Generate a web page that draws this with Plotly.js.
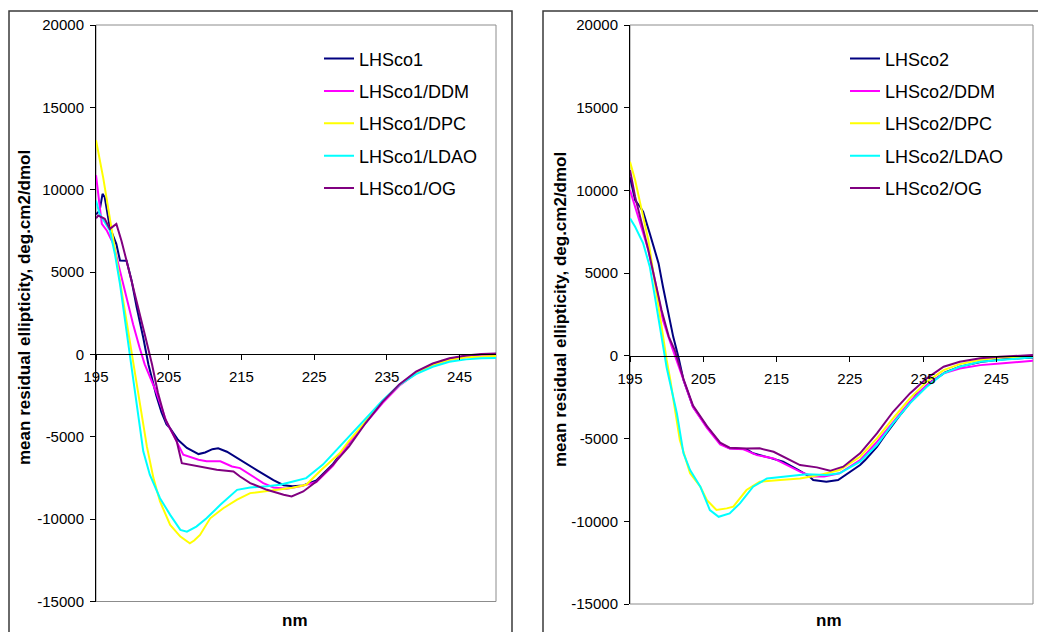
<!DOCTYPE html>
<html>
<head>
<meta charset="utf-8">
<script src="https://cdn.plot.ly/plotly-3.0.1.min.js"></script>
<style>html,body{margin:0;padding:0;background:#fff;}#chart{width:1038px;height:632px;}</style>
</head>
<body>
<div id="chart"></div>
<script>
// ---------- Left panel data (LHSco1) ----------
const nm_LHSco1      = [195,195.5,195.9,196.2,196.9,197.8,198.3,199.2,199.9,200.6,201.5,202.2,203.3,204.0,204.7,205.2,206.3,207.5,209.1,210.0,211.0,211.8,213.0,214.8,217.1,219.4,220.8,222.0,223.5,225.3,227.6,229.8,232.1,234.4,236.7,239.0,241.3,243.6,245.9,248,250];
const val_LHSco1     = [8500,8730,9750,9540,7710,6700,5700,5690,4470,2840,1010,-600,-2500,-3500,-4250,-4490,-5200,-5680,-6050,-5950,-5750,-5700,-5910,-6410,-7020,-7630,-7940,-8000,-7950,-7650,-6650,-5350,-4100,-2870,-1850,-1100,-600,-280,-100,-20,0];

const nm_LHSco1_DDM  = [195,195.4,195.8,196.5,197.4,198.3,199.2,200.1,201.0,201.7,203.3,204.7,205.6,207.0,209.1,210.2,212.1,213.7,214.8,216.6,218.0,219.4,221.2,223.1,225.3,227.6,229.8,232.1,234.4,236.7,239.0,241.3,243.6,245.9,248,250];
const val_LHSco1_DDM = [10880,9540,7920,7510,6700,5070,3450,1830,410,-600,-2300,-4100,-4870,-6090,-6390,-6490,-6490,-6800,-6900,-7410,-7810,-8080,-8160,-8010,-7750,-6750,-5350,-4150,-2950,-1900,-1150,-650,-330,-160,-80,-50];

const nm_LHSco1_DPC  = [195,196,197,198,199,200,201,202,202.9,203.8,205.2,206.6,207.9,208.5,209.3,210.7,212.5,214.4,216.2,218.0,220.3,222.0,223.9,226.0,228.5,229.8,232.1,234.4,236.7,239.0,241.3,243.6,245.9,248,250];
const val_LHSco1_DPC = [13000,10700,8000,5300,2500,-300,-3000,-5600,-7510,-8930,-10350,-11060,-11470,-11300,-10960,-9950,-9340,-8820,-8420,-8320,-8220,-8100,-7910,-7000,-6000,-5250,-4050,-2850,-1850,-1150,-650,-330,-170,-120,-100];

const nm_LHSco1_LDAO  = [195,195.5,196.9,197.6,198.3,199.2,199.6,200.0,200.7,201.5,202.4,203.8,205.2,206.6,207.5,208.8,210.2,212.1,214.4,216.2,218.5,220.3,222.1,223.9,226.2,228.5,229.8,232.1,234.4,236.7,239.0,241.3,243.6,245.9,248,250];
const val_LHSco1_LDAO = [9340,8530,7520,6100,4270,1420,0,-1200,-3200,-5880,-7300,-8730,-9740,-10650,-10760,-10450,-9950,-9130,-8220,-8080,-8010,-7910,-7710,-7510,-6690,-5600,-5000,-3950,-2800,-1850,-1200,-750,-450,-300,-230,-220];

const nm_LHSco1_OG   = [195,195.3,196.2,196.9,197.8,198.5,199.2,199.9,200.8,201.7,202.7,203.5,204.5,205.6,206.1,206.8,209.1,211.6,213.9,214.8,216.2,218.5,220.8,221.9,223.5,225.3,227.6,229.8,232.1,234.4,236.7,239.0,241.3,243.6,245.9,248,250];
const val_LHSco1_OG  = [8260,8430,8230,7620,7920,6900,5690,4470,2840,1220,-600,-2300,-3900,-4870,-5270,-6600,-6800,-7000,-7100,-7410,-7810,-8220,-8520,-8620,-8320,-7710,-6690,-5580,-4150,-2880,-1820,-1050,-550,-230,-60,30,60];

// ---------- Right panel data (LHSco2) ----------
const nm_LHSco2      = [195,195.7,196.4,196.8,197.7,198.9,199.5,200.2,200.9,201.6,202.3,203.6,205.5,207.3,208.6,210.9,211.8,214.0,215.9,218.0,219.5,220.0,221.8,223.4,224.1,225.3,226.4,227.1,228.7,230.0,232.0,234.0,236.0,238.0,240.0,243.0,246.0,250];
const val_LHSco2     = [10800,9400,9000,8700,7400,5590,4180,2570,1150,-50,-1460,-3080,-4290,-5290,-5590,-5650,-5890,-6150,-6400,-6900,-7300,-7510,-7610,-7510,-7300,-6900,-6600,-6300,-5500,-4680,-3500,-2400,-1600,-1000,-650,-350,-200,-100];

const nm_LHSco2_DDM  = [195,195.7,196.6,197.5,198.4,199.5,200.7,201.6,202.3,203.6,205.5,207.3,208.6,210.5,212.3,214.6,216.4,218.2,220.0,221.5,223.6,226.4,228.7,230.9,233.2,235.5,237.8,240.0,242.8,245.5,250];
const val_LHSco2_DDM = [10020,9010,7800,6400,4580,2160,550,-660,-1460,-3100,-4350,-5350,-5600,-5650,-6000,-6200,-6600,-7000,-7300,-7300,-7100,-6300,-5200,-3980,-2770,-1760,-1060,-760,-560,-460,-300];

const nm_LHSco2_DPC  = [195,195.7,196.6,197.5,198.2,198.9,199.5,200.0,200.5,201.8,203.2,204.6,205.5,206.8,208.2,209.1,210.9,212.7,215.5,218.2,220.9,223.6,226.4,228.7,230.9,233.2,235.5,237.8,240.0,242.8,245.5,250];
const val_LHSco2_DPC = [11730,10630,8810,7000,4990,2970,960,-250,-1460,-5090,-7100,-7910,-8720,-9320,-9220,-9120,-8110,-7610,-7510,-7410,-7200,-6900,-6100,-4990,-3780,-2570,-1560,-860,-500,-250,-100,-40];

const nm_LHSco2_LDAO  = [195,195.7,196.8,197.7,198.4,199.1,199.5,200.0,200.5,201.4,202.3,203.2,204.6,205.9,207.1,208.6,210.0,211.8,213.7,216.4,219.1,221.8,223.6,226.4,228.7,230.9,233.2,235.5,237.8,240.0,242.8,245.5,250];
const val_LHSco2_LDAO = [8310,7800,6800,5390,3570,1760,550,-700,-1700,-3480,-5890,-6900,-7910,-9320,-9730,-9520,-8920,-7910,-7410,-7270,-7150,-7200,-7100,-6400,-5390,-4080,-2870,-1870,-1060,-660,-360,-250,-90];

const nm_LHSco2_OG   = [195,195.7,196.6,197.5,198.4,199.3,200.3,201.1,201.8,202.3,203.6,205.5,207.3,208.6,210.9,212.7,214.6,216.4,218.2,220.5,222.3,224.1,226.4,228.7,230.9,233.2,235.5,237.8,240.0,242.8,245.5,250];
const val_LHSco2_OG  = [11230,9620,8010,6400,4580,2770,1150,350,-660,-1400,-3000,-4250,-5250,-5550,-5600,-5590,-5800,-6200,-6600,-6740,-6950,-6700,-5890,-4680,-3380,-2270,-1360,-660,-360,-150,-50,50];

// ---------- Labels / ticks ----------
const seriesNamesLeft  = ['LHSco1','LHSco1/DDM','LHSco1/DPC','LHSco1/LDAO','LHSco1/OG'];
const seriesNamesRight = ['LHSco2','LHSco2/DDM','LHSco2/DPC','LHSco2/LDAO','LHSco2/OG'];
const seriesColors = ['#000080','#FF00FF','#FFFF00','#00FFFF','#800080'];
const xTickVals = [195,205,215,225,235,245];
const xTickText = ['195','205','215','225','235','245'];
const yTickVals = [-15000,-10000,-5000,0,5000,10000,15000,20000];
const yTickText = ['-15000','-10000','-5000','0','5000','10000','15000','20000'];
const yTitle = 'mean residual ellipticity, deg.cm2/dmol';
const xTitle = 'nm';

const leftX  = [nm_LHSco1, nm_LHSco1_DDM, nm_LHSco1_DPC, nm_LHSco1_LDAO, nm_LHSco1_OG];
const leftY  = [val_LHSco1, val_LHSco1_DDM, val_LHSco1_DPC, val_LHSco1_LDAO, val_LHSco1_OG];
const rightX = [nm_LHSco2, nm_LHSco2_DDM, nm_LHSco2_DPC, nm_LHSco2_LDAO, nm_LHSco2_OG];
const rightY = [val_LHSco2, val_LHSco2_DDM, val_LHSco2_DPC, val_LHSco2_LDAO, val_LHSco2_OG];

const FONT = 'Arial, "Liberation Sans", sans-serif';
const traces = [];
seriesNamesLeft.forEach((n,i)=>{
  traces.push({x:leftX[i], y:leftY[i], name:n, type:'scatter', mode:'lines',
    line:{color:seriesColors[i], width:2}, xaxis:'x', yaxis:'y',
    legend:'legend', legendgroup:'L'+i});
});
seriesNamesRight.forEach((n,i)=>{
  traces.push({x:rightX[i], y:rightY[i], name:n, type:'scatter', mode:'lines',
    line:{color:seriesColors[i], width:2}, xaxis:'x2', yaxis:'y2',
    legend:'legend2', legendgroup:'R'+i});
});

// geometry (pixels -> paper)
const W=1038, H=632, ML=96, MR=5, MT=25, MB=28;
const PW=W-ML-MR, PH=H-MT-MB;
const px = v => (v-ML)/PW;
const py = v => (H-MB-v)/PH;

const yRange=[-15000,20000];
function zeroPos(dom){ return dom[0] + (0-yRange[0])/(yRange[1]-yRange[0])*(dom[1]-dom[0]); }
const yDomL=[py(601.5),1], yDomR=[0,1];

function xAx(dom, ydom){
  return {domain:dom, range:[195,250], anchor:'free', position:zeroPos(ydom),
    tickmode:'array', tickvals:xTickVals, ticktext:xTickText, ticks:'outside', ticklen:5, tickcolor:'#000',
    showline:true, linecolor:'#000', linewidth:1, showgrid:false, zeroline:false,
    tickfont:{family:FONT, size:15, color:'#000'}, ticklabelstandoff:4, fixedrange:true};
}
function yAx(dom, anchor){
  return {domain:dom, range:yRange, anchor:anchor,
    tickmode:'array', tickvals:yTickVals, ticktext:yTickText, ticks:'outside', ticklen:5, tickcolor:'#000',
    showline:true, linecolor:'#000', linewidth:1, showgrid:false, zeroline:false,
    tickfont:{family:FONT, size:15, color:'#000'}, ticklabelstandoff:3, fixedrange:true};
}

const layout = {
  width:W, height:H, margin:{l:ML, r:MR, t:MT, b:MB},
  paper_bgcolor:'#fff', plot_bgcolor:'#fff',
  font:{family:FONT, color:'#000'},
  xaxis: xAx([0, px(496)], yDomL),
  yaxis: yAx(yDomL, 'x'),
  xaxis2: xAx([px(630), px(1033)], yDomR),
  yaxis2: yAx(yDomR, 'x2'),
  showlegend:true,
  legend:{x:px(319), y:py(40.3), xanchor:'left', yanchor:'top', bgcolor:'rgba(0,0,0,0)',
    font:{family:FONT, size:18, color:'#000'}, traceorder:'grouped', tracegroupgap:6, borderwidth:0},
  legend2:{x:px(845), y:py(40.3), xanchor:'left', yanchor:'top', bgcolor:'rgba(0,0,0,0)',
    font:{family:FONT, size:18, color:'#000'}, traceorder:'grouped', tracegroupgap:6, borderwidth:0},
  shapes:[
    {type:'rect', xref:'x domain', yref:'y domain', x0:0, x1:1, y0:0, y1:1, line:{color:'#8c8c8c', width:1}, layer:'below'},
    {type:'rect', xref:'x2 domain', yref:'y2 domain', x0:0, x1:1, y0:0, y1:1, line:{color:'#8c8c8c', width:1}, layer:'below'},
    {type:'rect', xref:'paper', yref:'paper', x0:px(9), x1:px(512), y0:py(650), y1:py(11), line:{color:'#3a3a3a', width:1.5}, layer:'below'},
    {type:'rect', xref:'paper', yref:'paper', x0:px(543), x1:px(1050), y0:py(650), y1:py(11), line:{color:'#3a3a3a', width:1.5}, layer:'below'}
  ],
  annotations:[
    {text:'<b>'+yTitle+'</b>', xref:'paper', yref:'paper', x:px(24), y:py(308), textangle:-90, showarrow:false, xanchor:'center', yanchor:'middle', font:{family:FONT, size:17, color:'#000'}},
    {text:'<b>'+yTitle+'</b>', xref:'paper', yref:'paper', x:px(560), y:py(310), textangle:-90, showarrow:false, xanchor:'center', yanchor:'middle', font:{family:FONT, size:17, color:'#000'}},
    {text:'<b>'+xTitle+'</b>', xref:'paper', yref:'paper', x:px(295), y:py(620), showarrow:false, xanchor:'center', yanchor:'middle', font:{family:FONT, size:17, color:'#000'}},
    {text:'<b>'+xTitle+'</b>', xref:'paper', yref:'paper', x:px(829), y:py(620), showarrow:false, xanchor:'center', yanchor:'middle', font:{family:FONT, size:17, color:'#000'}}
  ]
};

Plotly.newPlot('chart', traces, layout, {displayModeBar:false, staticPlot:true});
</script>
</body>
</html>
